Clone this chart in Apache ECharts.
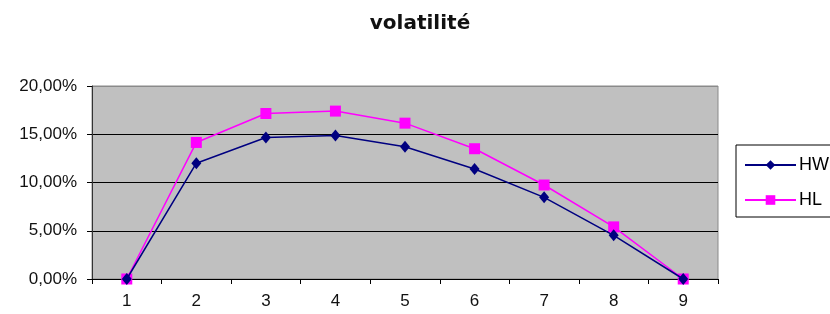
<!DOCTYPE html>
<html>
<head>
<meta charset="utf-8">
<script src="https://cdn.jsdelivr.net/npm/echarts@6/dist/echarts.min.js"></script>
<style>
html, body { margin: 0; padding: 0; background: #fff; }
#main { width: 830px; height: 314px; }
</style>
</head>
<body>
<div id="main"></div>
<script>
// donnees
var categories = ['1', '2', '3', '4', '5', '6', '7', '8', '9'];
var hw = [0, 0.120, 0.1466, 0.1487, 0.137, 0.114, 0.0846, 0.0453, 0];
var hl = [0, 0.1415, 0.1715, 0.174, 0.1615, 0.135, 0.0974, 0.054, 0];

var myChart = echarts.init(document.getElementById('main'));

var option = {
    animation: false,
    textStyle: { fontFamily: 'Liberation Sans, Arial, sans-serif' },
    title: {
        text: 'volatilité',
        left: 415,
        textAlign: 'center',
        top: 9,
        textStyle: { fontSize: 20, fontWeight: 'bold', color: '#111', fontFamily: 'DejaVu Sans' }
    },
    legend: {
        orient: 'vertical',
        left: 736,
        top: 145,
        padding: [11, 40, 8, 8],
        itemGap: 17,
        itemWidth: 51,
        itemHeight: 12,
        borderColor: '#000',
        borderWidth: 1,
        textStyle: { fontSize: 18, color: '#000', padding: [0, 0, 0, -2] },
        data: ['HW', 'HL']
    },
    grid: {
        left: 92,
        right: 112,
        top: 86,
        bottom: 35,
        show: true,
        backgroundColor: '#c0c0c0',
        borderColor: '#8a8a8a',
        borderWidth: 1
    },
    xAxis: {
        type: 'category',
        data: categories,
        boundaryGap: true,
        axisLine: { lineStyle: { color: '#000', width: 1 } },
        axisTick: { show: true, interval: 0, length: 5, lineStyle: { color: '#000' } },
        axisLabel: { fontSize: 17, color: '#111', margin: 14 },
        splitLine: { show: false }
    },
    yAxis: {
        type: 'value',
        min: 0,
        max: 0.2,
        interval: 0.05,
        axisLine: { show: true, lineStyle: { color: '#333', width: 1 } },
        axisTick: { show: true, length: 5, lineStyle: { color: '#000' } },
        axisLabel: {
            fontSize: 17,
            color: '#111',
            margin: 15,
            formatter: function (v) {
                return (v * 100).toFixed(2).replace('.', ',') + '%';
            }
        },
        splitLine: {
            show: true,
            lineStyle: { color: ['#000', '#000', '#000', '#000', '#8a8a8a'], width: 1 }
        }
    },
    series: [
        {
            name: 'HW',
            type: 'line',
            data: hw,
            symbol: 'diamond',
            symbolSize: [10, 12],
            lineStyle: { color: '#000080', width: 1.5 },
            itemStyle: { color: '#000080' },
            z: 3
        },
        {
            name: 'HL',
            type: 'line',
            data: hl,
            symbol: 'rect',
            symbolSize: 11,
            lineStyle: { color: '#ff00ff', width: 1.5 },
            itemStyle: { color: '#ff00ff' },
            z: 2
        }
    ]
};
myChart.setOption(option);
</script>
</body>
</html>
